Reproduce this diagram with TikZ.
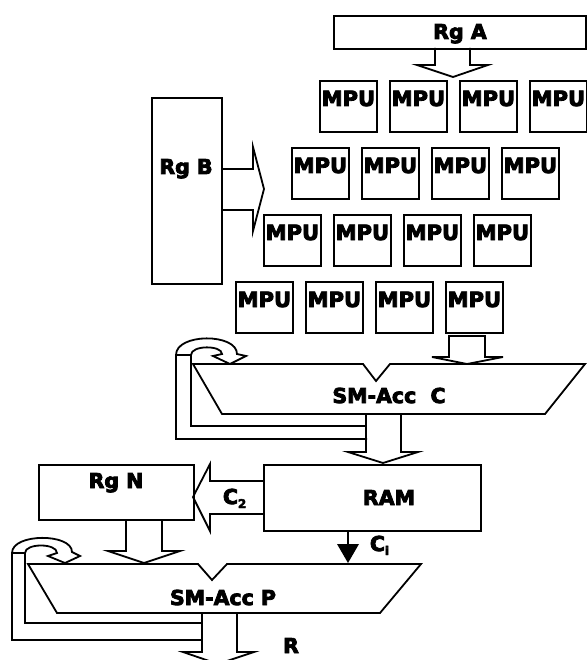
\documentclass[tikz,border=0pt]{standalone}
\usepackage{fontspec}
\setmainfont{DejaVu Sans}[BoldFeatures={FakeBold=4}]
\begin{document}
\begin{tikzpicture}[x=1pt,y=-1pt,line width=1.8pt,line join=miter,
  box/.style={draw,rectangle,inner sep=0pt,anchor=north west},
  mpu/.style={box,minimum width=57pt,minimum height=51pt},
  lbl/.style={inner sep=0pt,anchor=base,font=\bfseries\fontsize{20.5}{20.5}\selectfont},
  mputxt/.style={lbl,font=\bfseries\fontsize{21}{21}\selectfont}]
\useasboundingbox (0,0) rectangle (586,660);

% Rg A
\node[box,minimum width=252pt,minimum height=33pt] (rga) at (333,15) {};
\node[lbl] (rgat) at (460,39) {Rg A};
\draw (435,48) -- (435,65) -- (417,65) -- (453,77) -- (488,65) -- (470,65) -- (470,48);

% MPU array
\foreach \r/\yy in {0/80,1/147,2/214,3/281}{
  \foreach \c in {0,...,3}{
    \pgfmathsetmacro\xx{319-28*\r+70*\c}
    \node[mpu] (m\r\c) at (\xx,\yy) {};
    \node[mputxt] (t\r\c) at ([yshift=-26pt]m\r\c.north) {MPU};
  }
}

% Rg B
\node[box,minimum width=70pt,minimum height=186pt] (rgb) at (151,97) {};
\node[lbl] (rgbt) at (186,174) {Rg B};
\draw (rgb.east |- 0,169) -- (253,169) -- (253,147) -- (264,189) -- (253,231) -- (253,210) -- (rgb.east |- 0,210);

% arrow MPU -> SM-Acc C
\draw (449,336) -- (485,336) -- (485,357) -- (503,357) -- (467,364) -- (432,357) -- (449,357) -- cycle;

% SM-Acc C
\draw (193,364) -- (363,364) -- (376,381) -- (390,364) -- (585,364) -- (545,414) -- (222,414) -- cycle;
\node[lbl] (smc) at (389,403) {SM-Acc\ \ C};
% output arrow C -> RAM
\draw (366,414) -- (366,452) -- (348,452) -- (383,463) -- (418,452) -- (401,452) -- (401,414);
% feedback loop C
\draw (367,439) -- (176,439) -- (176,355)
  .. controls (176,333) and (237,333) .. (237,354) -- (246,356) -- (230,364) -- (213,356) -- (222,354)
  .. controls (222,345) and (191,345) .. (191,355) -- (191,426) -- (366,426);
\draw (176,355) -- (191,355);

% RAM
\node[box,minimum width=217pt,minimum height=66pt] (ram) at (263,464) {};
\node[lbl] (ramt) at (389,505) {RAM};

% Rg N
\node[box,minimum width=155pt,minimum height=55pt] (rgn) at (38,464) {};
\node[lbl] (rgnt) at (116,488) {Rg N};

% C2 arrow
\draw (263,481) -- (210,481) -- (210,464) -- (193,497) -- (210,531) -- (210,514) -- (263,514);
\node[lbl,anchor=base west] (c2) at (222,504) {C\raisebox{-4pt}{\fontsize{12}{12}\selectfont 2}};

% Rg N -> SM-Acc P
\draw (126,519) -- (126,551) -- (108,551) -- (144,563) -- (180,551) -- (162,551) -- (162,519);

% Ci arrow
\draw (348,530) -- (348,546);
\fill (337,544) -- (359,544) -- (348,563) -- cycle;
\node[lbl,anchor=base west] (ci) at (369,551) {C\raisebox{-4pt}{\fontsize{12}{12}\selectfont i}};

% SM-Acc P
\draw (28,564) -- (198,564) -- (212,580) -- (227,564) -- (421,564) -- (380,613) -- (57,613) -- cycle;
\node[lbl] (smp) at (223,605) {SM-Acc P};
% output R
\draw (202,613) -- (202,652) -- (183,652) -- (218,664) -- (254,652) -- (237,652) -- (237,613);
\node[lbl] (r) at (291,653) {R};
% feedback loop P
\draw (202,640) -- (12,640) -- (12,553)
  .. controls (12,533) and (72,533) .. (72,552) -- (80,556) -- (65,563) -- (48,556) -- (57,553)
  .. controls (57,543) and (25,543) .. (25,553) -- (25,623) -- (202,623);
\draw (12,553) -- (25,553);
\end{tikzpicture}
\end{document}
